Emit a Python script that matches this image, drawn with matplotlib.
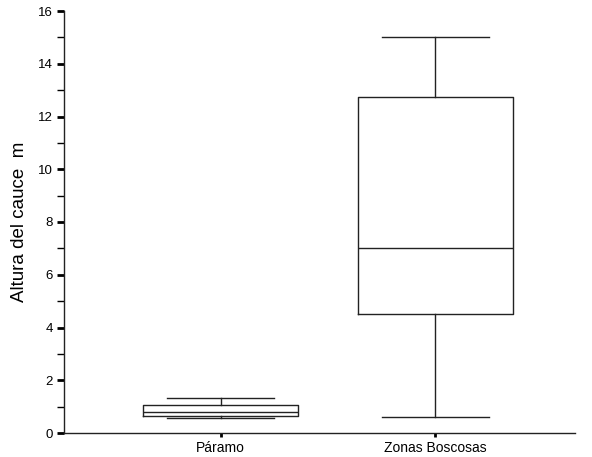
import matplotlib
matplotlib.use("Agg")
from matplotlib import pyplot as plt
from matplotlib.ticker import MultipleLocator

plt.rcParams['font.family'] = ['Liberation Sans', 'DejaVu Sans']

labels = ['Páramo', 'Zonas Boscosas']
whis_lo = [0.55, 0.6]
q1 = [0.65, 4.5]
med = [0.78, 7.0]
q3 = [1.05, 12.75]
whis_hi = [1.33, 15.0]

stats = []
for i in range(len(labels)):
    stats.append({'label': labels[i], 'whislo': whis_lo[i], 'q1': q1[i],
                  'med': med[i], 'q3': q3[i], 'whishi': whis_hi[i],
                  'fliers': []})

fig = plt.figure(figsize=(5.92, 4.57), dpi=100)
ax = fig.add_axes([64/592, 1-433/457, (575-64)/592, (433-11)/457])

line = dict(color='#222222', linewidth=1.0)
ax.bxp(stats, positions=[1, 2], widths=0.72, showfliers=False,
       boxprops=line, whiskerprops=line, capprops=line,
       medianprops=line, capwidths=0.5)

ax.set_xlim(0.27, 2.65)
ax.set_ylim(0, 16)
ax.yaxis.set_major_locator(MultipleLocator(2))
ax.yaxis.set_minor_locator(MultipleLocator(1))

ax.spines['top'].set_visible(False)
ax.spines['right'].set_visible(False)
for s in ['left', 'bottom']:
    ax.spines[s].set_color('#222222')
    ax.spines[s].set_linewidth(1.0)

ax.tick_params(axis='y', which='major', direction='out', length=5, width=2,
               labelsize=9.5, pad=3)
ax.tick_params(axis='y', which='minor', direction='out', length=5, width=1)
ax.tick_params(axis='x', direction='out', length=3, width=2, labelsize=10, pad=3)

ax.set_ylabel('Altura del cauce  m', fontsize=13.5, labelpad=7)

fig.savefig('out.png', dpi=100)
